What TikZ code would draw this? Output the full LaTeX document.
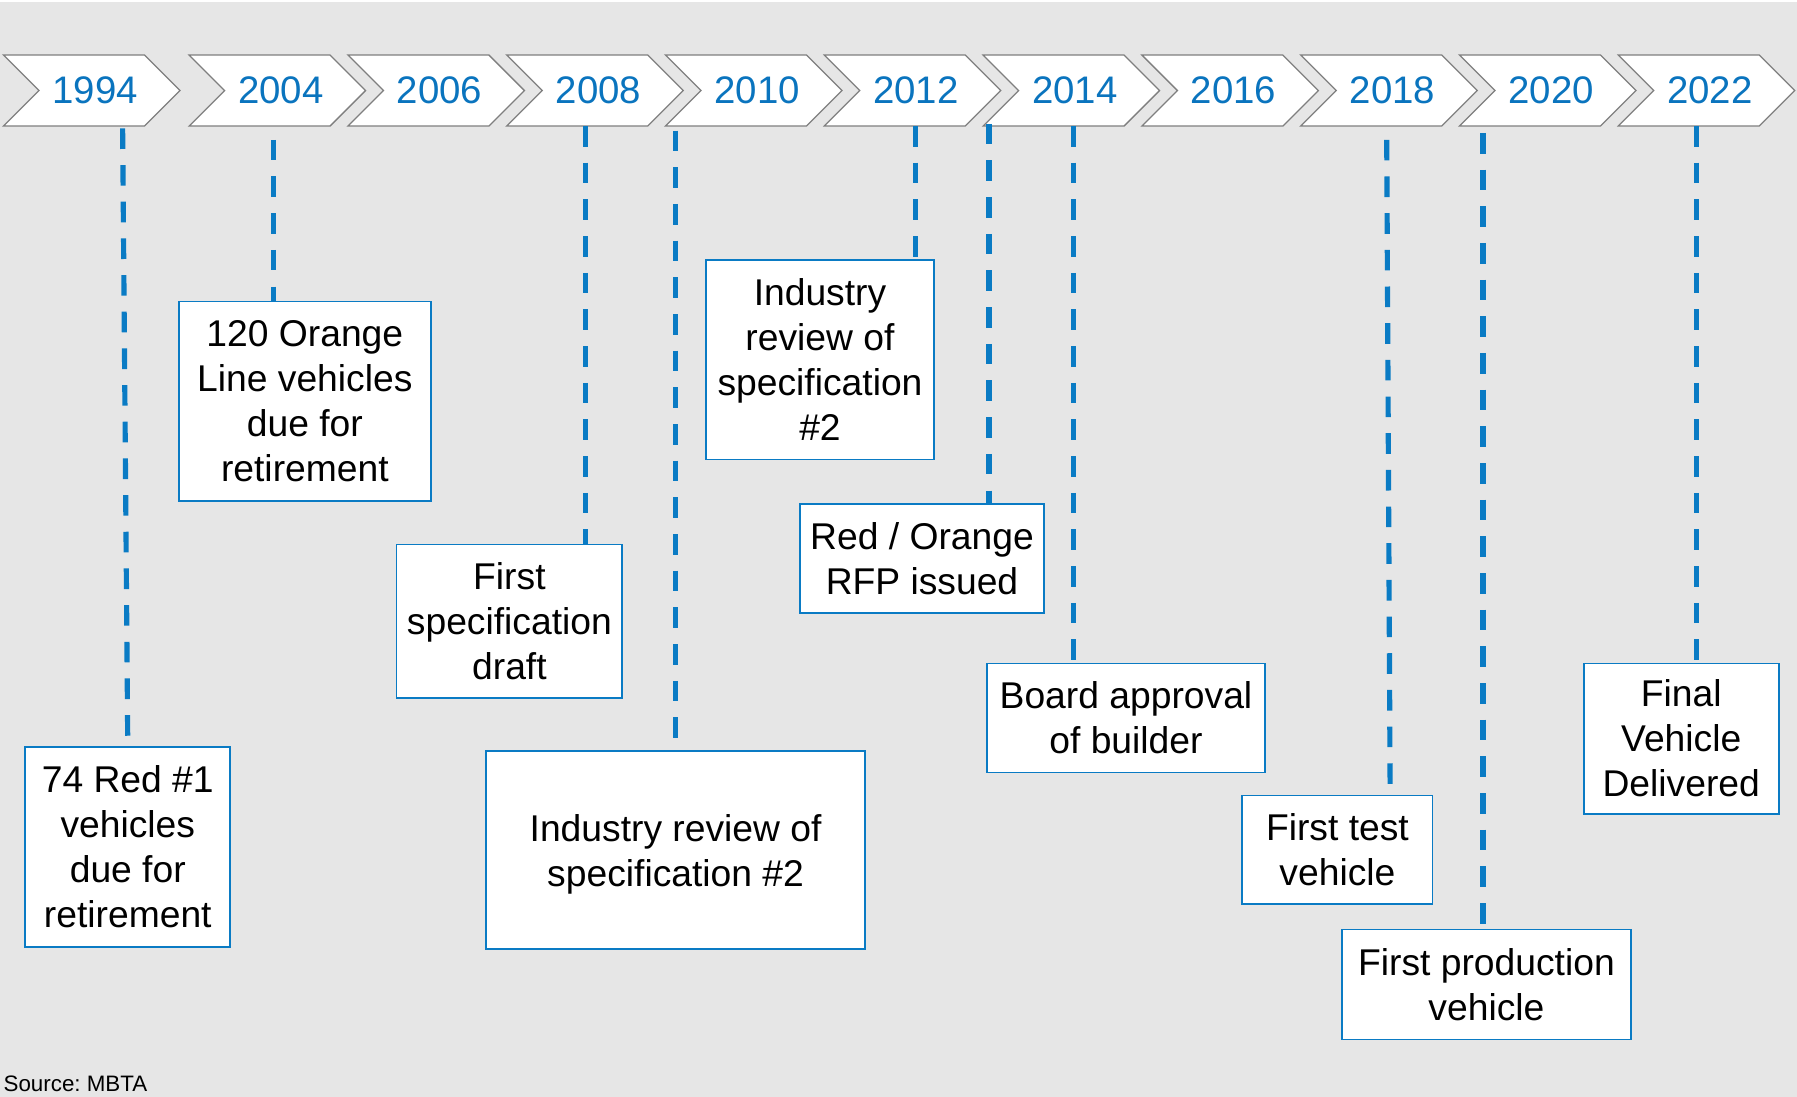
\documentclass[tikz,border=0pt]{standalone}
\usepackage{fontspec}
\setmainfont{Liberation Sans}
\frenchspacing
\definecolor{bg}{HTML}{E6E6E6}
\definecolor{yearblue}{HTML}{0A74BE}
\definecolor{lineblue}{HTML}{0A7BC4}
\definecolor{chevgray}{HTML}{7F7F7F}
\begin{document}
\begin{tikzpicture}[x=1pt,y=-1pt,
  chev/.style={fill=white,draw=chevgray,line width=1.1pt,line join=miter},
  yr/.style={text=yearblue,font=\fontsize{33.5}{40}\selectfont,inner sep=0pt},
  evbox/.style={draw=lineblue,fill=white,line width=1.5pt,align=center,
    font=\fontsize{32.5}{39.3}\selectfont,inner sep=0pt,
    execute at begin node={\rule{0pt}{27pt}}},
  dl/.style={draw=lineblue,line width=4.5pt,dash pattern=on 18pt off 14pt}]
\useasboundingbox (0,0) rectangle (1568,957);
\fill[bg] (0,0) rectangle (1568,957);
\fill[white] (0,0) rectangle (1568,1.5);
% chevrons
\foreach \L/\Y in {3/1994,165/2004,303.56/2006,442.12/2008,580.68/2010,719.24/2012,857.8/2014,996.36/2016,1134.92/2018,1273.48/2020,1412.04/2022}{
  \draw[chev] (\L,48) -- (\L+123,48) -- (\L+154,79) -- (\L+123,110) -- (\L,110) -- (\L+31,79) -- cycle;
  \node[yr] (y\Y) at (\L+80,79) {\Y};
}
% boxes
\node[evbox,minimum width=179pt,minimum height=174pt] (b1) at (111.5,739) {74 Red \#1\\vehicles\\due for\\retirement};
\node[evbox,minimum width=220pt,minimum height=174pt] (b2) at (266,350) {120 Orange\\Line vehicles\\due for\\retirement};
\node[evbox,minimum width=197pt,minimum height=134pt] (b3) at (444.5,542) {First\\specification\\draft};
\node[evbox,minimum width=331pt,minimum height=173pt] (b4) at (589.5,741.5) {\rule{0pt}{32pt}Industry review of\\specification \#2};
\node[evbox,minimum width=199pt,minimum height=174pt] (b5) at (715.5,314) {Industry\\review of\\specification\\\#2};
\node[evbox,minimum width=213pt,minimum height=95pt] (b6) at (804.5,487.5) {Red / Orange\\RFP issued};
\node[evbox,minimum width=243pt,minimum height=95pt] (b7) at (982.5,626.5) {Board approval\\of builder};
\node[evbox,minimum width=166pt,minimum height=95pt] (b8) at (1167,741.5) {First test\\vehicle};
\node[evbox,minimum width=252pt,minimum height=96pt] (b9) at (1297,859) {First production\\vehicle};
\node[evbox,minimum width=170pt,minimum height=131pt] (b10) at (1467,644.5) {Final\\Vehicle\\Delivered};
% connector top ends
\coordinate (t1) at (107,112);
\coordinate (t2) at (239,122);
\coordinate (t3) at (511,110);
\coordinate (t4) at (589.5,114);
\coordinate (t5) at (799,110);
\coordinate (t6) at (863,108);
\coordinate (t7) at (937,110);
\coordinate (t8) at (1210,122);
\coordinate (e8) at (1213,694);
\coordinate (t9) at (1294,116);
\coordinate (t10) at (1480,110);
\draw[dl] (t1) -- (b1.north);
\draw[dl] (t2) -- (t2 |- b2.north);
\draw[dl] (t3) -- (t3 |- b3.north);
\draw[dl] (t4) -- (b4.north);
\draw[dl] (t5) -- (t5 |- b5.north);
\draw[dl] (t6) -- (t6 |- b6.north);
\draw[dl] (t7) -- (t7 |- b7.north);
\draw[dl] (t8) -- (e8);
\draw[dl] (t9) -- (t9 |- b9.north);
\draw[dl] (t10) -- (t10 |- b10.north);
\node[anchor=base west,font=\fontsize{19.5}{22}\selectfont,inner sep=0pt] (src) at (3,952) {Source: MBTA};
\end{tikzpicture}
\end{document}
